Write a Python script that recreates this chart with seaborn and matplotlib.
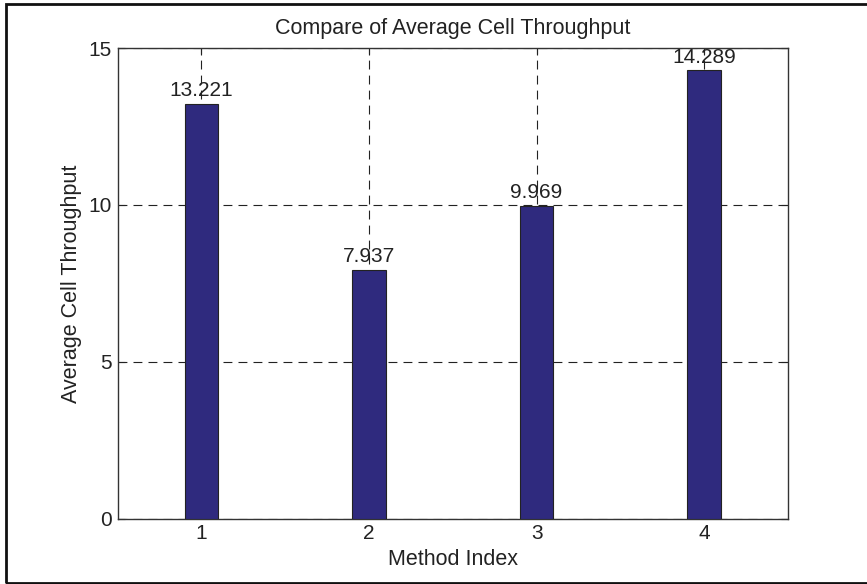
import matplotlib
matplotlib.use("Agg")
import matplotlib.pyplot as plt
import seaborn as sns
import pandas as pd
from matplotlib.patches import Rectangle

methods = ["1", "2", "3", "4"]
throughput = [13.221, 7.937, 9.969, 14.289]
yticks = [0, 5, 10, 15]

sns.set_theme(style="white")
plt.rcParams["font.family"] = ["Liberation Sans", "DejaVu Sans"]

df = pd.DataFrame({"Method Index": methods, "Average Cell Throughput": throughput})

W, H = 867, 584
fig = plt.figure(figsize=(W / 100, H / 100), dpi=100)
fig.patch.set_facecolor("white")
ax = fig.add_axes([117.5 / W, 1 - 518.7 / H, (788 - 117.5) / W, (518.7 - 48) / H])

sns.barplot(data=df, x="Method Index", y="Average Cell Throughput", ax=ax,
            color="#2f2a7e", saturation=1, width=0.2,
            edgecolor="#222222", linewidth=0.8, zorder=3)

ax.set_xlim(-0.5, 3.5)
ax.set_ylim(0, 15)
ax.set_yticks(yticks)
ax.set_yticklabels([str(t) for t in yticks])

ax.grid(True, linestyle=(0, (8, 5.5)), color="#222222", linewidth=0.8, zorder=0)
ax.set_axisbelow(True)
for s in ax.spines.values():
    s.set_color("#333333")
    s.set_linewidth(1.0)
    s.set_visible(True)

ax.tick_params(direction="in", length=5, width=0.8, color="#222222",
               labelsize=15, labelcolor="#222222", top=True, right=True,
               bottom=True, left=True, pad=4)

for i, v in enumerate(throughput):
    ax.text(i, v + 0.11, f"{v:.3f}", ha="center", va="bottom",
            fontsize=15, color="#222222", zorder=4)

ax.set_title("Compare of Average Cell Throughput", fontsize=15.5, color="#222222", pad=10)
ax.set_xlabel("Method Index", fontsize=15.5, color="#222222", labelpad=4)
ax.set_ylabel("Average Cell Throughput", fontsize=15.5, color="#222222", labelpad=5)

# outer frame around the figure
fig.patches.append(Rectangle((5.5 / W, 1.5 / H), (W + 10) / W, (579) / H,
                             transform=fig.transFigure, fill=False,
                             edgecolor="#111111", linewidth=2))

fig.savefig("out.png", dpi=100)
